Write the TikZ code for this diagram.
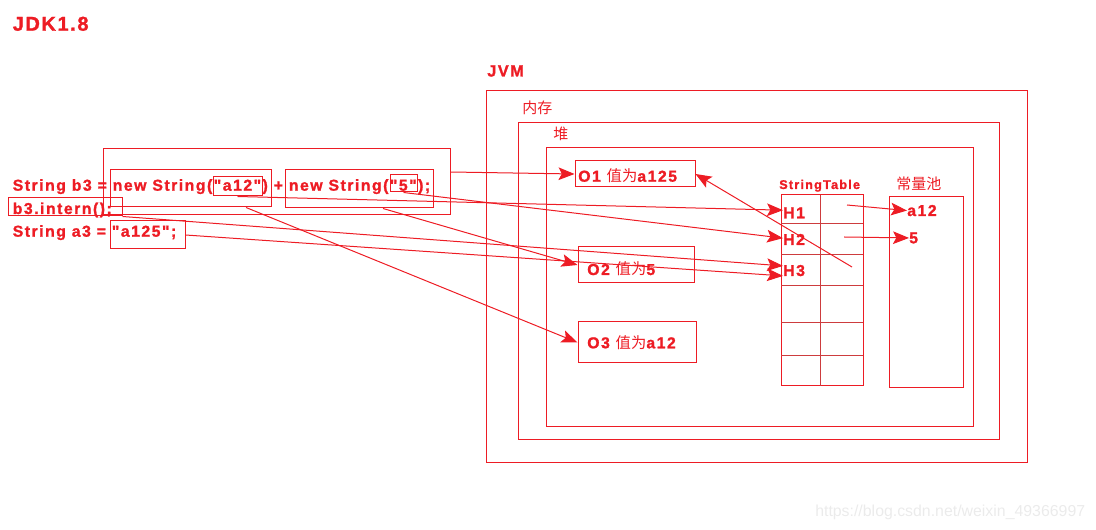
\documentclass[tikz,border=0pt]{standalone}
\usepackage{fontspec}
\setmainfont{Liberation Sans}
\newfontfamily\cjk{Noto Sans CJK SC}
\newfontfamily\spc[LetterSpace=9.5,BoldFeatures={FakeBold=1.3}]{Liberation Sans}
\newfontfamily\spcw[LetterSpace=8,BoldFeatures={FakeBold=1.3}]{Liberation Sans}
\usetikzlibrary{fit,arrows.meta}
\definecolor{pred}{RGB}{237,28,36}
\definecolor{gridred}{RGB}{205,60,62}
\begin{document}
\begin{tikzpicture}[x=0.75pt,y=-0.75pt,
  box/.style={draw=pred, line width=0.75pt, inner sep=0pt},
  code/.style={text=pred, font=\spc\bfseries\fontsize{11.85}{14}\selectfont, inner sep=0pt, anchor=base west},
  small/.style={text=pred, font=\spc\bfseries\fontsize{9.5}{11}\selectfont, inner sep=0pt, anchor=base west},
  zh/.style={text=pred, font=\cjk\fontsize{11.25}{13}\selectfont, inner sep=0pt, anchor=base west},
  conn/.style={draw=pred, line width=0.75pt, -{Stealth[length=12pt,width=9.5pt,inset=2.5pt]}},
  gline/.style={draw=gridred, line width=0.75pt}
]
\useasboundingbox (0,0) rectangle (1096,530);

% titles
\node[text=pred, font=\spcw\bfseries\fontsize{15}{17}\selectfont, inner sep=0pt, anchor=base west] (jdk) at (12.5,30.7) {JDK1.8};
\node[text=pred, font=\spc\bfseries\fontsize{12.2}{14}\selectfont, inner sep=0pt, anchor=base west] (jvm) at (487,76.5) {JVM};

% nested containers
\node[box, fit={(486,91) (1027,463)}] (jvmbox) {};
\node[box, fit={(518,123) (999,440)}] (mem) {};
\node[box, fit={(546,148) (973,427)}] (heap) {};
\node[zh] (memlbl) at (522,113.5) {内存};
\node[zh] (heaplbl) at (553,139.5) {堆};

% objects in heap
\node[box, fit={(575,161) (695,187)}] (O1) {};
\node[box, fit={(578,247) (694,283)}] (O2) {};
\node[box, fit={(578,322) (696,363)}] (O3) {};
\node[code] (t1) at (578,181.7) {O1 {\cjk\mdseries\fontsize{11.5}{13}\selectfont 值为}a125};
\node[code] (t2) at (587,275) {O2 {\cjk\mdseries\fontsize{11.5}{13}\selectfont 值为}5};
\node[code] (t3) at (587,348.3) {O3 {\cjk\mdseries\fontsize{11.5}{13}\selectfont 值为}a12};

% StringTable
\node[small] (stlbl) at (779,189) {StringTable};
\node[box, fit={(781,195) (863,386)}] (st) {};
\foreach \yy in {223.3,254.7,285.7,322.3,355.7} \draw[gline] (781,\yy) -- (863,\yy);
\draw[gline] (820,195) -- (820,386);
\node[code] (H1) at (783,218.3) {H1};
\node[code] (H2) at (783,245) {H2};
\node[code] (H3) at (783,276) {H3};
\coordinate (c1) at (847,205);
\coordinate (c2) at (844,237);
\coordinate (c3) at (852,267);

% constant pool
\node[zh] (poollbl) at (896,189.5) {常量池};
\node[box, fit={(889,197) (963,388)}] (pool) {};
\node[code] (pa12) at (907,216) {a12};
\node[code] (p5) at (909,243.3) {5};

% code on the left
\node[code] (l1) at (12.5,190.7) {String b3 = new String("a12") + new String("5");};
\node[code] (l2) at (12.5,214) {b3.intern();};
\node[code] (l3) at (12.5,236.7) {String a3 = "a125";};
\node[box, fit={(103,149) (450,215)}] (big) {};
\node[box, fit={(110,170) (271,207)}] (ns1) {};
\node[box, fit={(213,177) (262,196)}] (a12b) {};
\node[box, fit={(285,170) (433,208)}] (ns2) {};
\node[box, fit={(390,175) (417,192)}] (fb) {};
\node[box, fit={(8,198) (122,216)}] (bi) {};
\node[box, fit={(110,221) (185,249)}] (ab) {};

% connectors
\draw[conn] (big.east |- 0,172) -- (O1.west);
\draw[conn] (a12b.south) -- ([yshift=2pt]H1.west);
\draw[conn] (ns1.south -| 246,0) -- (O3.west);
\draw[conn] (fb.south) -- ([yshift=1pt]H2.west);
\draw[conn] (ns2.south -| 383,0) -- (O2.west);
\draw[conn] (bi.south east) -- ([yshift=3.5pt]H3.west);
\draw[conn] (ab.east) -- ([yshift=-4pt]H3.west);
\draw[conn] (c3) -- (O1.east);
\draw[conn] (c1) -- (pa12.west);
\draw[conn] (c2) -- (p5.west);

% watermark
\node[text=black!8, font=\fontsize{11.9}{14}\selectfont, inner sep=0pt, anchor=base west] (wm) at (815,516.7) {https://blog.csdn.net/weixin\_49366997};
\end{tikzpicture}
\end{document}
